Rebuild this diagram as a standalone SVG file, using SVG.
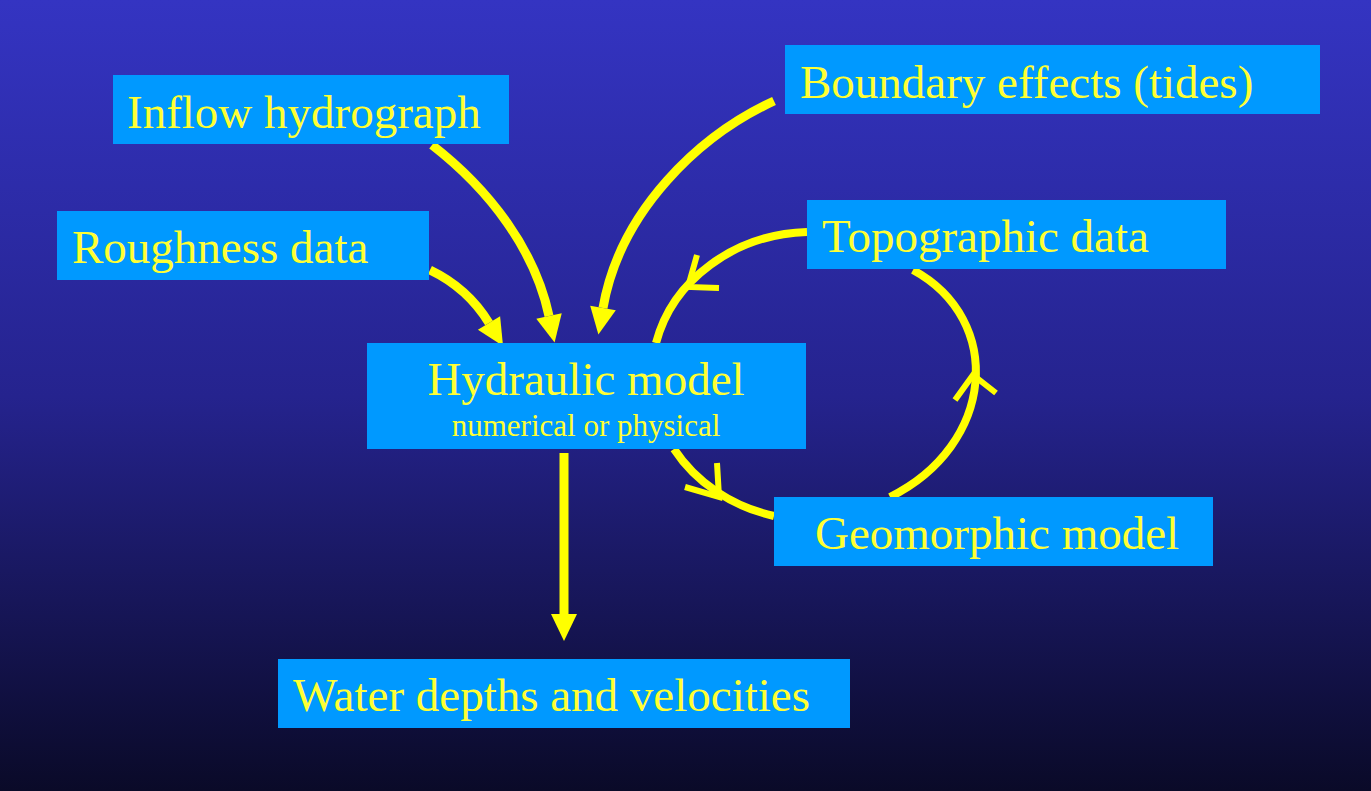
<svg xmlns="http://www.w3.org/2000/svg" width="1371" height="791" viewBox="0 0 1371 791">
<defs>
<linearGradient id="bg" x1="0" y1="0" x2="0" y2="1">
<stop offset="0" stop-color="#3434c2"/>
<stop offset="0.5" stop-color="#25238e"/>
<stop offset="1" stop-color="#0a0a28"/>
</linearGradient>
<marker id="head" markerUnits="userSpaceOnUse" markerWidth="30" markerHeight="30" refX="0" refY="13" orient="auto" viewBox="0 0 30 26" overflow="visible">
<path d="M0,0 L27,13 L0,26 z" fill="#ffff00"/>
</marker>
<style>
.box{fill:#0099ff}
.t{font-family:"Liberation Serif","Times New Roman",serif;font-size:47px;fill:#ffff33}
.s{font-family:"Liberation Serif","Times New Roman",serif;font-size:31px;fill:#ffff33}
.arr{fill:none;stroke:#ffff00;stroke-width:9;marker-end:url(#head)}
.cyc{fill:none;stroke:#ffff00;stroke-width:8}
.chev{fill:none;stroke:#ffff00;stroke-width:6;stroke-linecap:butt}
</style>
</defs>
<rect width="1371" height="791" fill="url(#bg)"/>
<g id="connectors">
<path class="arr" d="M432,145 C490,190 535,250 549,316"/>
<path class="arr" d="M774,101 C700,135 620,210 603,308"/>
<path class="arr" d="M430,270 C455,282 475,300 489,323"/>
<path class="arr" d="M564,453 L564,614"/>
<path class="cyc" d="M807,232 A161,144 0 0 0 656,343"/>
<path class="cyc" d="M674,449 A161,144 0 0 0 774,516"/>
<path class="cyc" d="M890,497 C995,445 1005,320 913,270"/>
<polyline class="chev" points="697,255 688,287 719,288"/>
<polyline class="chev" points="717,463 719,497 685,487"/>
<polyline class="chev" points="955,400 973,375 996,393"/>
</g>
<g id="inflow">
<rect class="box" x="113" y="75" width="396" height="69"/>
<text class="t" x="127" y="128">Inflow hydrograph</text>
</g>
<g id="boundary">
<rect class="box" x="785" y="45" width="535" height="69"/>
<text class="t" x="800" y="98">Boundary effects (tides)</text>
</g>
<g id="roughness">
<rect class="box" x="57" y="211" width="372" height="69"/>
<text class="t" x="72" y="263">Roughness data</text>
</g>
<g id="topographic">
<rect class="box" x="807" y="200" width="419" height="69"/>
<text class="t" x="822" y="252">Topographic data</text>
</g>
<g id="hydraulic">
<rect class="box" x="367" y="343" width="439" height="106"/>
<text class="t" x="586" y="395" text-anchor="middle">Hydraulic model</text>
<text class="s" x="586" y="436" text-anchor="middle">numerical or physical</text>
</g>
<g id="geomorphic">
<rect class="box" x="774" y="497" width="439" height="69"/>
<text class="t" x="815" y="549">Geomorphic model</text>
</g>
<g id="water">
<rect class="box" x="278" y="659" width="572" height="69"/>
<text class="t" x="293" y="711">Water depths and velocities</text>
</g>
</svg>
